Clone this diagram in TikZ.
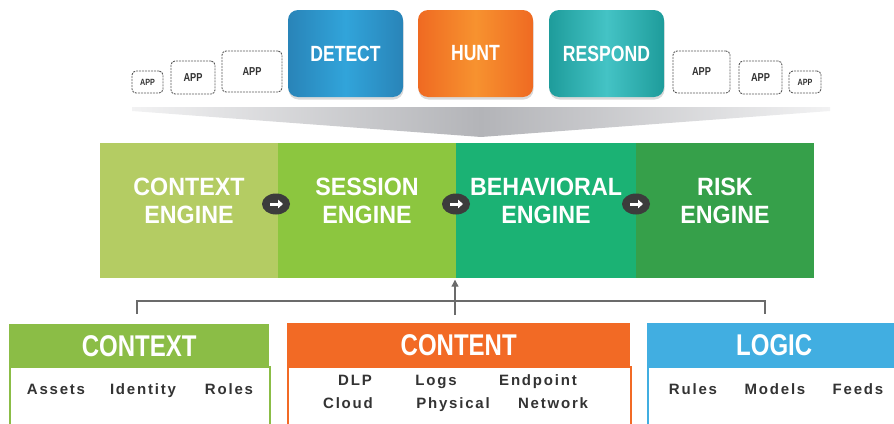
\documentclass[tikz,border=0pt]{standalone}
\usepackage{fontspec}
\setmainfont{Liberation Sans}
\newfontfamily\hdfont[FakeStretch=0.8]{Liberation Sans}
\newfontfamily\engfont[FakeStretch=0.93]{Liberation Sans}
\newfontfamily\itemfont[LetterSpace=12]{Liberation Sans}
\usetikzlibrary{shadows,arrows.meta,shapes.geometric}
\definecolor{detA}{HTML}{2984B8}
\definecolor{detB}{HTML}{31A4DA}
\definecolor{huntA}{HTML}{EF6A22}
\definecolor{huntB}{HTML}{F7922F}
\definecolor{resA}{HTML}{1E9C9B}
\definecolor{resB}{HTML}{44C3C5}
\definecolor{ctxE}{HTML}{B4CC63}
\definecolor{sesE}{HTML}{8CC63F}
\definecolor{behE}{HTML}{1BB274}
\definecolor{riskE}{HTML}{36A04A}
\definecolor{ctxH}{HTML}{8BBD46}
\definecolor{conH}{HTML}{F26A25}
\definecolor{logH}{HTML}{41AEE1}
\definecolor{itemC}{HTML}{333333}
\definecolor{lineC}{HTML}{6B6B6B}
\definecolor{circC}{HTML}{3C3C3C}
\definecolor{appC}{HTML}{5A5A5A}
\definecolor{funL}{HTML}{F2F2F3}
\definecolor{funM}{HTML}{B3B4B8}
\begin{document}
\begin{tikzpicture}[x=1pt,y=-1pt,
  topbox/.style={rounded corners=10pt, minimum width=115pt, minimum height=87pt,
    text=white, font=\hdfont\bfseries\fontsize{22}{24}\selectfont,
    drop shadow={opacity=0.3, shadow xshift=0.5pt, shadow yshift=-2.5pt}},
  appbox/.style={draw=appC, line width=0.9pt, dash pattern=on 2pt off 1pt,
    rounded corners=4pt, text=itemC, font=\hdfont\bfseries\fontsize{11.5}{12}\selectfont, inner sep=0pt},
  engbox/.style={inner sep=0pt, minimum width=178pt, minimum height=135pt, draw=none},
  engtext/.style={text=white, align=center, font=\engfont\bfseries\fontsize{25}{28}\selectfont},
  circ/.style={ellipse, fill=circC, minimum width=28pt, minimum height=21pt, inner sep=0pt},
  warrow/.style={white, line width=3pt, -{Triangle[length=5pt,width=8.5pt]}},
  hdr/.style={anchor=north west, minimum height=43pt, inner sep=0pt, text=white,
    font=\hdfont\bfseries\fontsize{30}{32}\selectfont},
  bodybox/.style={anchor=north west, fill=white, line width=1.5pt, minimum height=80pt, inner sep=0pt},
  item/.style={anchor=base, text=itemC, font=\itemfont\bfseries\fontsize{15}{16}\selectfont, inner sep=0pt},
  conn/.style={draw=lineC, line width=1.2pt}
]
\useasboundingbox (0,0) rectangle (894,423);
\clip (0,0) rectangle (894,423);

% funnel
\path[left color=funL, right color=funL, middle color=funM]
  (132,107) -- (830,107) -- (830,111) -- (481,137) -- (132,111) -- cycle;

% top boxes
\node[topbox, left color=detA, right color=detA, middle color=detB] (detect) at (345.5,53.5) {DETECT};
\node[topbox, left color=huntA, right color=huntA, middle color=huntB] (hunt) at (475.5,53.5) {HUNT};
\node[topbox, left color=resA, right color=resA, middle color=resB] (respond) at (606.5,53.5) {RESPOND};

% app boxes
\node[appbox, minimum width=31pt, minimum height=22pt, font=\hdfont\bfseries\fontsize{9}{10}\selectfont] (appl1) at (147.5,82) {APP};
\node[appbox, minimum width=44pt, minimum height=33pt] (appl2) at (193,77.5) {APP};
\node[appbox, minimum width=60pt, minimum height=41pt] (appl3) at (252,71.5) {APP};
\node[appbox, minimum width=57pt, minimum height=42pt] (appr3) at (701.5,72) {APP};
\node[appbox, minimum width=43pt, minimum height=33pt] (appr2) at (760.5,77.5) {APP};
\node[appbox, minimum width=32pt, minimum height=22pt, font=\hdfont\bfseries\fontsize{9}{10}\selectfont] (appr1) at (805,82) {APP};

% engines
\node[engbox, fill=ctxE] (ctx) at (189,210.5) {};
\node[engbox, fill=sesE] (ses) at (367,210.5) {};
\node[engbox, fill=behE, minimum width=180pt] (beh) at (546,210.5) {};
\node[engbox, fill=riskE] (risk) at (725,210.5) {};
\node[engtext] (ctxt) at ([yshift=9.5pt]ctx.center) {CONTEXT\\ENGINE};
\node[engtext] (sest) at ([yshift=9.5pt]ses.center) {SESSION\\ENGINE};
\node[engtext] (beht) at ([yshift=9.5pt]beh.center) {BEHAVIORAL\\ENGINE};
\node[engtext] (riskt) at ([yshift=9.5pt]risk.center) {RISK\\ENGINE};

% arrow circles
\node[circ] (c1) at (276,204) {};
\node[circ] (c2) at (456,204) {};
\node[circ] (c3) at (636,204) {};
\foreach \c in {c1,c2,c3}{
  \draw[warrow] ([xshift=-6pt]\c.center) -- ([xshift=7pt]\c.center);
}

% bottom boxes
\node[bodybox, draw=ctxH, minimum width=260pt] (ctxb) at (9,366) {};
\node[hdr, fill=ctxH, minimum width=260pt] (ctxh) at (9,324) {CONTEXT};
\node[bodybox, draw=conH, minimum width=343pt] (conb) at (287,366) {};
\node[hdr, fill=conH, minimum width=343pt] (conh) at (287,323) {CONTENT};
\node[bodybox, draw=logH, minimum width=254pt] (logb) at (647,366) {};
\node[hdr, fill=logH, minimum width=254pt] (logh) at (647,323) {LOGIC};

% items (base anchored)
\node[item] (assets) at (56,394) {Assets};
\node[item] (identity) at (143,394) {Identity};
\node[item] (roles) at (229,394) {Roles};
\node[item] (dlp) at (355,385.5) {DLP};
\node[item] (logs) at (436,385.5) {Logs};
\node[item] (endpoint) at (538,385.5) {Endpoint};
\node[item] (cloud) at (348,408.5) {Cloud};
\node[item] (physical) at (453,408.5) {Physical};
\node[item] (network) at (553,408.5) {Network};
\node[item] (rules) at (693,394) {Rules};
\node[item] (models) at (775,394) {Models};
\node[item] (feeds) at (858,394) {Feeds};

% connectors
\coordinate (jl) at (137,314);
\coordinate (jr) at (765,314);
\coordinate (jc) at (455,315);
\draw[conn] (jl) -- ++(0,-13) -| (jr);
\draw[conn, -{Triangle[length=7pt,width=7pt]}, shorten >=1.5pt] (jc) -- (jc |- ses.south);
\end{tikzpicture}
\end{document}
